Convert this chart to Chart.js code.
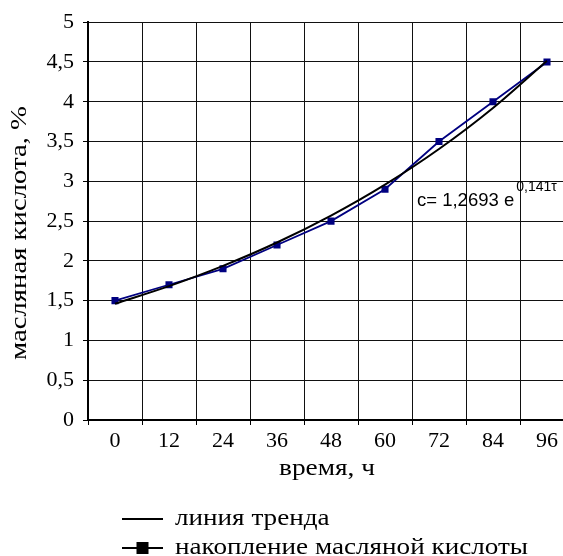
<!DOCTYPE html>
<html>
<head>
<meta charset="utf-8">
<script src="https://cdn.jsdelivr.net/npm/chart.js@4/dist/chart.umd.min.js"></script>
<style>
  html, body { margin: 0; padding: 0; background: #fff; overflow: hidden; }
  #wrap { width: 563px; height: 556px; overflow: hidden; position: relative; }
  canvas { display: block; }
</style>
</head>
<body>
<div id="wrap"><canvas id="c" width="600" height="556"></canvas></div>
<script>
// Time points, h
const hours = ['0', '12', '24', '36', '48', '60', '72', '84', '96'];
// Butyric acid accumulation, %
const acid = [1.5, 1.7, 1.9, 2.2, 2.5, 2.9, 3.5, 4.0, 4.5];
// Exponential trend c = 1,2693·e^(0,141τ), evaluated at τ = 1…9
const trend = [1.4615, 1.6828, 1.9376, 2.2310, 2.5689, 2.9579, 3.4058, 3.9216, 4.5154];
const yTicks = [0, 0.5, 1, 1.5, 2, 2.5, 3, 3.5, 4, 4.5, 5];

const serif = '"Liberation Serif", "Times New Roman", serif';
const sans = '"Liberation Sans", Arial, sans-serif';
const navy = '#000080';

const fmt = v => String(v).replace('.', ',');

// text drawn a little wider than the font's natural width
function wideText(ctx, text, x, y, sx, rot) {
  ctx.save();
  ctx.translate(x, y);
  if (rot) ctx.rotate(rot);
  ctx.scale(sx, 1);
  ctx.fillText(text, 0, 0);
  ctx.restore();
}

const extras = {
  id: 'extras',
  afterDraw(chart) {
    const ctx = chart.ctx;
    const x = chart.scales.x, y = chart.scales.y;
    const area = chart.chartArea;
    ctx.save();
    ctx.fillStyle = '#000';
    ctx.textBaseline = 'middle';

    // axis titles
    ctx.textAlign = 'center';
    ctx.font = '24px ' + serif;
    wideText(ctx, 'время, ч', (area.left + area.right) / 2 - 4, 469, 1.14, 0);
    ctx.font = '23px ' + serif;
    wideText(ctx, 'масляная кислота, %', 20, 233, 1.25, -Math.PI / 2);

    // trend equation
    ctx.textAlign = 'left';
    const ex = x.getPixelForValue(5.5) + 5;
    const ey = y.getPixelForValue(2.76);
    ctx.font = '18.5px ' + sans;
    const main = 'c= 1,2693 e';
    ctx.fillText(main, ex, ey);
    const w = ctx.measureText(main).width;
    ctx.font = '14px ' + sans;
    ctx.fillText('0,141τ', ex + w + 2, ey - 13);

    // legend
    const lx0 = 122, lx1 = 163, tx = 175;
    const rows = [
      { y: 519, text: 'линия тренда', marker: false },
      { y: 548, text: 'накопление масляной кислоты', marker: true }
    ];
    ctx.font = '23px ' + serif;
    rows.forEach(r => {
      ctx.strokeStyle = '#000';
      ctx.lineWidth = 2;
      ctx.beginPath();
      ctx.moveTo(lx0, r.y);
      ctx.lineTo(lx1, r.y);
      ctx.stroke();
      if (r.marker) {
        ctx.fillStyle = '#000';
        ctx.fillRect((lx0 + lx1) / 2 - 6, r.y - 6, 12, 12);
      }
      ctx.fillStyle = '#000';
      wideText(ctx, r.text, tx, r.y, 1.18, 0);
    });
    ctx.restore();
  }
};

new Chart(document.getElementById('c'), {
  type: 'line',
  data: {
    labels: hours,
    datasets: [
      {
        label: 'линия тренда',
        data: trend,
        borderColor: '#000',
        borderWidth: 2,
        pointRadius: 0,
        cubicInterpolationMode: 'monotone',
        fill: false,
        order: 1
      },
      {
        label: 'накопление масляной кислоты',
        data: acid,
        borderColor: navy,
        backgroundColor: navy,
        borderWidth: 1.8,
        pointStyle: 'rect',
        pointRadius: 5,
        pointBorderWidth: 0,
        tension: 0,
        fill: false,
        order: 2
      }
    ]
  },
  options: {
    responsive: false,
    animation: false,
    layout: { padding: { left: 0, top: 20, right: 26, bottom: 56 } },
    plugins: { legend: { display: false }, tooltip: { enabled: false } },
    scales: {
      x: {
        type: 'category',
        offset: true,
        grid: {
          offset: true,
          color: '#111',
          lineWidth: 1,
          drawTicks: true,
          tickLength: 5,
          tickColor: '#000'
        },
        border: { color: '#000', width: 2 },
        ticks: { font: { family: serif, size: 22 }, color: '#000', padding: 3, maxRotation: 0 },
        afterFit(s) { s.height = 80; }
      },
      y: {
        min: 0,
        max: 5,
        afterBuildTicks(s) { s.ticks = yTicks.map(v => ({ value: v })); },
        grid: { color: '#111', lineWidth: 1, tickLength: 5, tickColor: '#000' },
        border: { color: '#000', width: 2 },
        ticks: { font: { family: serif, size: 22 }, color: '#000', padding: 9, callback: v => fmt(v) },
        afterFit(s) { s.width = 88; }
      }
    }
  },
  plugins: [extras]
});
</script>
</body>
</html>
